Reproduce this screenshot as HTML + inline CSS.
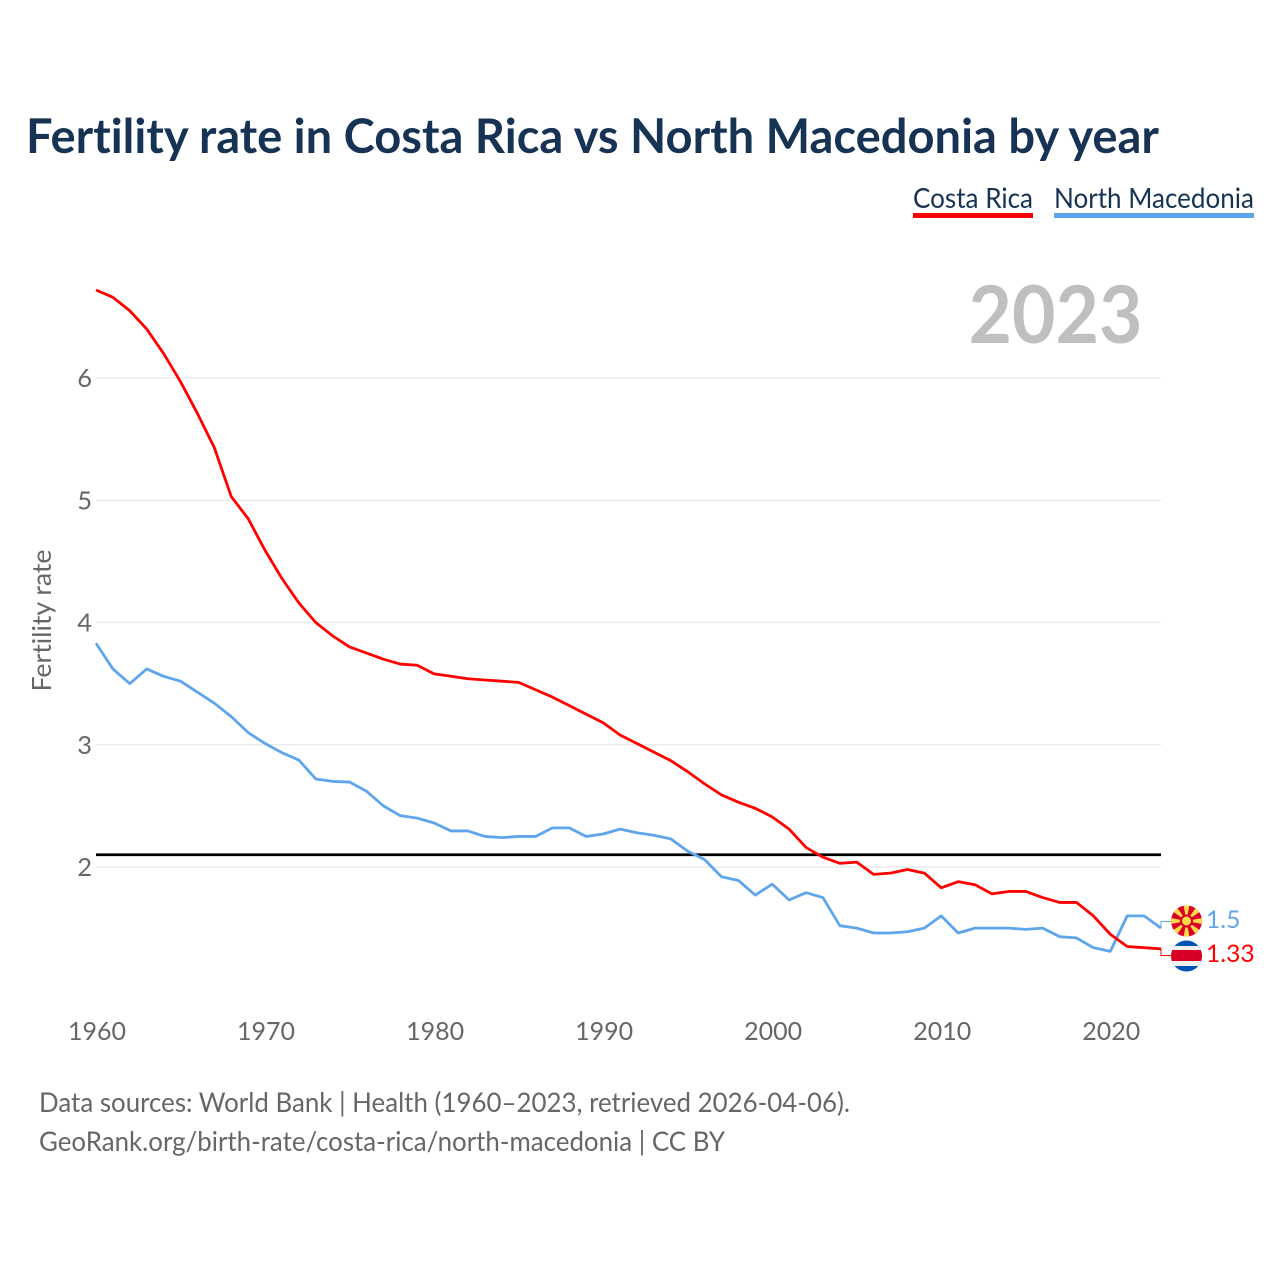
<!DOCTYPE html>
<html lang="en">
<head>
<meta charset="utf-8">
<title>Fertility rate in Costa Rica vs North Macedonia by year</title>
<style>
html,body{margin:0;padding:0;background:#fff;}
svg{display:block;font-family:Lato,Carlito,"Liberation Sans",sans-serif;font-variant-ligatures:none;}
</style>
</head>
<body>
<svg id="chart" xmlns="http://www.w3.org/2000/svg" width="1280" height="1280" viewBox="0 0 1280 1280">
  <rect x="0" y="0" width="1280" height="1280" fill="#ffffff"/>
  <text x="26" y="153" font-size="48" font-weight="700" fill="#173354" textLength="1133" lengthAdjust="spacingAndGlyphs">Fertility rate in Costa Rica vs North Macedonia by year</text>

  <g>
    <text x="913" y="208" font-size="28" fill="#173354" textLength="120" lengthAdjust="spacingAndGlyphs">Costa Rica</text>
    <rect x="913" y="213" width="120" height="5" fill="#ff0000"/>
  </g>
  <g>
    <text x="1054" y="208" font-size="28" fill="#173354" textLength="200" lengthAdjust="spacingAndGlyphs">North Macedonia</text>
    <rect x="1054" y="213" width="200" height="5" fill="#5fa5ec"/>
  </g>

  <text x="968.5" y="343" font-size="80" font-weight="700" fill="#bfbfbf" textLength="174" lengthAdjust="spacingAndGlyphs">2023</text>

  <g id="grid"></g>
  <g id="yticks"></g>
  <g id="xticks"></g>
  <text transform="translate(51,691.5) rotate(-90)" font-size="26" fill="#666666" textLength="142" lengthAdjust="spacingAndGlyphs">Fertility rate</text>

  <line id="refline" stroke="#000000" stroke-width="2.8"/>
  <polyline id="line-mk" fill="none" stroke="#5fa5ec" stroke-width="2.8" stroke-linejoin="round"/>
  <polyline id="line-cr" fill="none" stroke="#ff0000" stroke-width="2.8" stroke-linejoin="round"/>
  <polyline id="conn-mk" fill="none" stroke="#5fa5ec" stroke-width="1"/>
  <polyline id="conn-cr" fill="none" stroke="#ff0000" stroke-width="1"/>

  <g>
    <defs>
      <clipPath id="clip-mk"><circle cx="1186.5" cy="921" r="15.5"/></clipPath>
      <clipPath id="clip-cr"><circle cx="1186.5" cy="956" r="15.5"/></clipPath>
    </defs>
    <g clip-path="url(#clip-mk)">
      <rect x="1171" y="905" width="31" height="32" fill="#d80027"/>
      <g fill="#ffda44">
        <polygon points="1186.5,921 1183.5,905 1189.5,905"/>
        <polygon points="1186.5,921 1183.5,937 1189.5,937"/>
        <polygon points="1186.5,921 1171,918 1171,924"/>
        <polygon points="1186.5,921 1202,918 1202,924"/>
        <polygon points="1186.5,921 1172,911 1176,906"/>
        <polygon points="1186.5,921 1201,911 1197,906"/>
        <polygon points="1186.5,921 1172,931 1176,936"/>
        <polygon points="1186.5,921 1201,931 1197,936"/>
      </g>
      <circle cx="1186.5" cy="921" r="6.5" fill="#d80027"/>
      <circle cx="1186.5" cy="921" r="4.5" fill="#ffda44"/>
    </g>
  </g>
  <g clip-path="url(#clip-cr)">
    <rect x="1171" y="940" width="31" height="32" fill="#0052b4"/>
    <rect x="1171" y="946" width="31" height="20" fill="#f0f0f0"/>
    <rect x="1171" y="950" width="31" height="11" fill="#d80027"/>
  </g>

  <text id="val-mk" x="1206" y="928" font-size="24.6" fill="#5fa5ec"></text>
  <text id="val-cr" x="1206" y="962" font-size="24.6" fill="#ff0000"></text>

  <text x="39" y="1112" font-size="27" fill="#666666" textLength="811" lengthAdjust="spacingAndGlyphs">Data sources: World Bank | Health (1960–2023, retrieved 2026-04-06).</text>
  <text x="39" y="1151" font-size="27" fill="#666666" textLength="686" lengthAdjust="spacingAndGlyphs">GeoRank.org/birth-rate/costa-rica/north-macedonia | CC BY</text>
</svg>
<script>
const startYear = 1960;
const costaRica = [6.72,6.66,6.55,6.40,6.20,5.97,5.71,5.43,5.03,4.85,4.59,4.36,4.16,4.00,3.89,3.80,3.75,3.70,3.66,3.65,3.58,3.56,3.54,3.53,3.52,3.51,3.45,3.39,3.32,3.25,3.18,3.08,3.01,2.94,2.87,2.78,2.68,2.59,2.53,2.48,2.41,2.31,2.16,2.08,2.03,2.04,1.94,1.95,1.98,1.95,1.83,1.88,1.855,1.78,1.80,1.80,1.75,1.71,1.71,1.60,1.45,1.35,1.34,1.33];
const northMacedonia = [3.83,3.62,3.50,3.62,3.56,3.52,3.43,3.34,3.23,3.10,3.01,2.935,2.875,2.72,2.70,2.695,2.62,2.50,2.42,2.40,2.36,2.295,2.295,2.25,2.24,2.25,2.25,2.32,2.32,2.25,2.27,2.31,2.28,2.26,2.23,2.13,2.06,1.92,1.89,1.77,1.86,1.73,1.79,1.75,1.52,1.50,1.46,1.46,1.47,1.50,1.60,1.46,1.50,1.50,1.50,1.49,1.50,1.43,1.42,1.34,1.31,1.60,1.60,1.50];
const yTicks = [2,3,4,5,6];
const xTicks = [1960,1970,1980,1990,2000,2010,2020];
const replacementRate = [2.1];
const endLabels = ["1.5","1.33"];

const NS = 'http://www.w3.org/2000/svg';
const xScale = function (year) { return 96 + (year - 1960) * (1065 / 63); };
const yScale = function (v) { return 867 - (v - 2) * 122.25; };
const pointsOf = function (series) {
  return series.map(function (v, i) { return xScale(startYear + i).toFixed(2) + ',' + yScale(v).toFixed(2); }).join(' ');
};

const grid = document.getElementById('grid');
const yG = document.getElementById('yticks');
yTicks.forEach(function (t) {
  const ln = document.createElementNS(NS, 'line');
  
  
  ln.setAttribute('x1', xScale(1960));
  ln.setAttribute('x2', xScale(2023));
  ln.setAttribute('y1', yScale(t));
  ln.setAttribute('y2', yScale(t));
  ln.setAttribute('stroke', '#e8e8e8');
  ln.setAttribute('stroke-width', '1.3');
  grid.appendChild(ln);
  const lb = document.createElementNS(NS, 'text');
  
  
  lb.setAttribute('x', 92);
  lb.setAttribute('y', yScale(t) + 9);
  lb.setAttribute('text-anchor', 'end');
  lb.setAttribute('font-size', '25.5');
  lb.setAttribute('fill', '#666666');
  lb.textContent = t;
  yG.appendChild(lb);
});

const xG = document.getElementById('xticks');
xTicks.forEach(function (t) {
  const lb = document.createElementNS(NS, 'text');
  
  
  lb.setAttribute('x', xScale(t) + 1);
  lb.setAttribute('y', 1040);
  lb.setAttribute('text-anchor', 'middle');
  lb.setAttribute('font-size', '25');
  lb.setAttribute('fill', '#666666');
  lb.textContent = t;
  xG.appendChild(lb);
});

const ref = document.getElementById('refline');
ref.setAttribute('x1', xScale(1960));
ref.setAttribute('x2', xScale(2023));
ref.setAttribute('y1', yScale(replacementRate[0]));
ref.setAttribute('y2', yScale(replacementRate[0]));

document.getElementById('line-cr').setAttribute('points', pointsOf(costaRica));
document.getElementById('line-mk').setAttribute('points', pointsOf(northMacedonia));

const endX = xScale(2023);
const endCr = yScale(costaRica[costaRica.length - 1]);
const endMk = yScale(northMacedonia[northMacedonia.length - 1]);
document.getElementById('conn-mk').setAttribute('points', endX + ',' + endMk + ' ' + endX + ',921.5 1171,921.5');
document.getElementById('conn-cr').setAttribute('points', endX + ',' + endCr + ' ' + endX + ',955.5 1171,955.5');
document.getElementById('val-mk').textContent = endLabels[0];
document.getElementById('val-cr').textContent = endLabels[1];
</script>
</body>
</html>
